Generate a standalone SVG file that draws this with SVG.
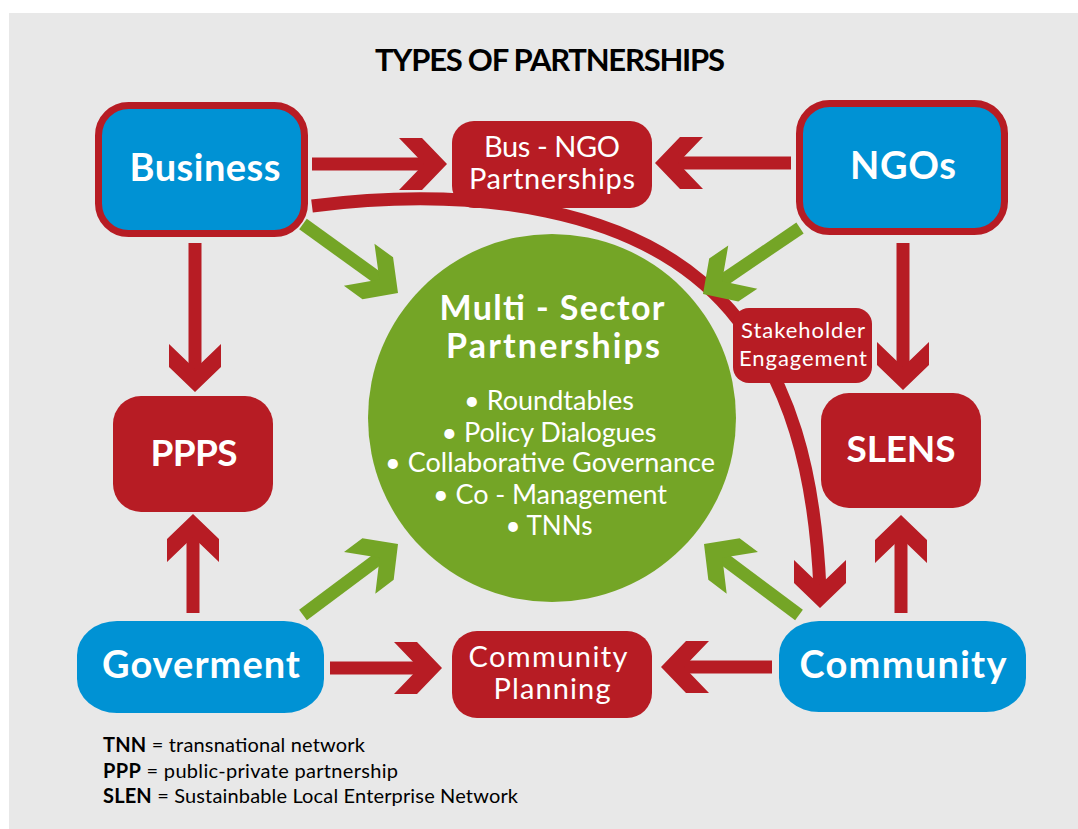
<svg xmlns="http://www.w3.org/2000/svg" xmlns:xlink="http://www.w3.org/1999/xlink" width="1078" height="829" viewBox="0 0 1078 829">
<style>
.red{fill:#b71c24}
.blue{fill:#0092d4}
.bord{fill:#0092d4;stroke:#b71c24;stroke-width:7}
.t{font-family:Lato,"Open Sans","Liberation Sans",sans-serif;fill:#fff;text-anchor:middle}
.b{font-weight:bold}
.rs{stroke:#b71c24;stroke-width:13;fill:none}
.gs{stroke:#74a526;stroke-width:13;fill:none}
.lg{font-family:Lato,"Open Sans","Liberation Sans",sans-serif;font-size:20px;fill:#000}
</style>
<defs>
<path id="hd" d="M-48,-26 L-25,-26 L0,0 L-25,26 L-48,26 L-23,0 Z"/>
</defs>
<rect x="9" y="13" width="1069" height="816" fill="#e8e8e8"/>
<text x="550" y="71" font-family="Lato,'Open Sans','Liberation Sans',sans-serif" font-weight="bold" font-size="31" text-anchor="middle" fill="#000" textLength="350">TYPES OF PARTNERSHIPS</text>

<g id="connectors">
<path class="rs" d="M312,206 C470,186 640,205 730,310 C790,380 815,470 820,590"/>
<use href="#hd" class="red" transform="translate(820,608) rotate(90)"/>
</g>

<g id="multi-sector">
<circle cx="552" cy="418" r="184" fill="#74a526"/>
<text class="t b" x="552" y="320" font-size="34" textLength="225">Multi - Sector</text>
<text class="t b" x="553" y="358" font-size="34" textLength="214">Partnerships</text>
<text class="t" x="549" y="410" font-size="27" textLength="170">• Roundtables</text>
<text class="t" x="549" y="442" font-size="27" textLength="215">• Policy Dialogues</text>
<text class="t" x="550" y="472" font-size="27" textLength="330">• Collaborative Governance</text>
<text class="t" x="550" y="504" font-size="27" textLength="234">• Co - Management</text>
<text class="t" x="549" y="535" font-size="26">• TNNs</text>
</g>

<g id="stakeholder">
<rect class="red" x="733" y="308" width="139" height="75" rx="16"/>
<text class="t" x="803" y="338" font-size="22" textLength="124">Stakeholder</text>
<text class="t" x="803" y="366" font-size="22" textLength="128">Engagement</text>
</g>

<g id="business">
<rect class="bord" x="98.5" y="105.5" width="206" height="128" rx="30"/>
<text class="t b" x="205" y="181" font-size="38" textLength="151">Business</text>
</g>
<g id="ngos">
<rect class="bord" x="799.5" y="103.5" width="205" height="128" rx="30"/>
<text class="t b" x="903" y="179" font-size="38" textLength="106">NGOs</text>
</g>
<g id="bus-ngo">
<rect class="red" x="452" y="121" width="200" height="87" rx="22"/>
<text class="t" x="552" y="157" font-size="29" textLength="136">Bus - NGO</text>
<text class="t" x="552" y="189" font-size="29" textLength="166">Partnerships</text>
</g>
<g id="ppps">
<rect class="red" x="113" y="396" width="160" height="116" rx="28"/>
<text class="t b" x="194" y="466" font-size="37" textLength="87">PPPS</text>
</g>
<g id="slens">
<rect class="red" x="821" y="393" width="160" height="115" rx="28"/>
<text class="t b" x="901" y="462" font-size="37" textLength="109">SLENS</text>
</g>
<g id="goverment">
<rect class="blue" x="77" y="621" width="247" height="92" rx="40" ry="34"/>
<text class="t b" x="201" y="678" font-size="38" textLength="198">Goverment</text>
</g>
<g id="community">
<rect class="blue" x="779" y="621" width="247" height="91" rx="40" ry="34"/>
<text class="t b" x="903" y="678" font-size="38" textLength="207">Community</text>
</g>
<g id="community-planning">
<rect class="red" x="452" y="631" width="200" height="87" rx="25"/>
<text class="t" x="548" y="667" font-size="29" textLength="159">Community</text>
<text class="t" x="552" y="699" font-size="29" textLength="117">Planning</text>
</g>

<g id="arrows">
<line class="rs" x1="312" y1="164" x2="427" y2="164"/>
<use href="#hd" class="red" transform="translate(447,164)"/>
<line class="rs" x1="791" y1="163" x2="675" y2="163"/>
<use href="#hd" class="red" transform="translate(655,163) rotate(180)"/>
<line class="rs" x1="195" y1="243" x2="195" y2="372"/>
<use href="#hd" class="red" transform="translate(195,392) rotate(90)"/>
<line class="rs" x1="193" y1="613" x2="193" y2="534"/>
<use href="#hd" class="red" transform="translate(193,514) rotate(-90)"/>
<line class="rs" x1="903" y1="243" x2="903" y2="370"/>
<use href="#hd" class="red" transform="translate(903,390) rotate(90)"/>
<line class="rs" x1="901" y1="613" x2="901" y2="535"/>
<use href="#hd" class="red" transform="translate(901,515) rotate(-90)"/>
<line class="rs" x1="330" y1="668" x2="422" y2="668"/>
<use href="#hd" class="red" transform="translate(442,668)"/>
<line class="rs" x1="772" y1="667" x2="681" y2="667"/>
<use href="#hd" class="red" transform="translate(661,667) rotate(180)"/>

<line class="gs" x1="303" y1="224" x2="382" y2="281"/>
<use href="#hd" fill="#74a526" transform="translate(398,293) rotate(36)"/>
<line class="gs" x1="800" y1="228" x2="719" y2="283"/>
<use href="#hd" fill="#74a526" transform="translate(703,294) rotate(146)"/>
<line class="gs" x1="303" y1="615" x2="382" y2="556"/>
<use href="#hd" fill="#74a526" transform="translate(398,544) rotate(-37)"/>
<line class="gs" x1="799" y1="615" x2="720" y2="556"/>
<use href="#hd" fill="#74a526" transform="translate(704,544) rotate(-143)"/>
</g>

<g id="legend">
<text class="lg" x="103" y="752" textLength="262"><tspan font-weight="bold">TNN</tspan> = transnational network</text>
<text class="lg" x="103" y="778" textLength="295"><tspan font-weight="bold">PPP</tspan> = public-private partnership</text>
<text class="lg" x="103" y="803" textLength="415"><tspan font-weight="bold">SLEN</tspan> = Sustainbable Local Enterprise Network</text>
</g>
</svg>
